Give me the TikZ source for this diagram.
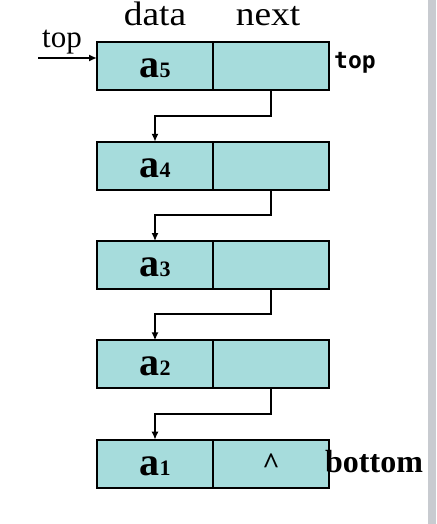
\documentclass[tikz,border=0pt]{standalone}
\usepackage{fontspec}
\setmainfont{Liberation Serif}
\setmonofont{DejaVu Sans Mono}
\usepackage{tikz}
\usetikzlibrary{arrows.meta}
\usetikzlibrary{positioning}
\definecolor{cellcolor}{RGB}{166,220,220}
\definecolor{barcolor}{RGB}{200,203,208}
\newcommand{\stackelem}[1]{{\fontsize{40}{40}\selectfont\bfseries a}{\fontsize{22}{22}\selectfont\bfseries #1}}
\tikzset{
    cellbox/.style={draw=black, line width=2pt, fill=cellcolor, inner sep=0pt, outer sep=0pt,
        minimum width=116pt, minimum height=48pt},
    datacell/.style={cellbox, text height=23pt, text depth=0pt},
    nextcell/.style={cellbox, font=\fontsize{30}{30}\selectfont\bfseries},
    link/.style={draw=black, line width=2pt, -{Latex[length=8pt,width=7pt]}},
    headtext/.style={inner sep=0pt, anchor=base, font=\fontsize{34}{34}\selectfont},
}
\begin{document}
\begin{tikzpicture}[x=1pt, y=-1pt, node distance=51.3pt]
	\useasboundingbox (0,0) rectangle (436,524);
	\fill[barcolor] (428,0) rectangle (436,524);
	% column heads
	\node[headtext] (datahead) at (155,26) {\scalebox{1.1}[1]{data}};
	\node[headtext] (nexthead) at (268,26) {\scalebox{1.1}[1]{next}};
	% stack cells
	\node[datacell] (d5) at (155,66.5) {\stackelem{5}};
	\node[nextcell, right=0pt of d5] (n5) {};
	\node[datacell, below=of d5] (d4) {\stackelem{4}};
	\node[nextcell, right=0pt of d4] (n4) {};
	\node[datacell, below=of d4] (d3) {\stackelem{3}};
	\node[nextcell, right=0pt of d3] (n3) {};
	\node[datacell, below=of d3] (d2) {\stackelem{2}};
	\node[nextcell, right=0pt of d2] (n2) {};
	\node[datacell, below=of d2] (d1) {\stackelem{1}};
	\node[nextcell, right=0pt of d1] (n1) {\textasciicircum};
	% links
	\draw[link] (n5.south) -- ++(0,25.2) -| (d4.north);
	\draw[link] (n4.south) -- ++(0,25.2) -| (d3.north);
	\draw[link] (n3.south) -- ++(0,25.2) -| (d2.north);
	\draw[link] (n2.south) -- ++(0,25.2) -| (d1.north);
	% top pointer
	\node[inner sep=0pt, anchor=base west, font=\fontsize{31}{31}\selectfont] (toplabel) at (42,48) {top};
	\coordinate (topin) at (38,58);
	\draw[link] (topin) -- (topin -| d5.west);
	\node[inner sep=0pt, anchor=base west, font=\fontsize{23}{23}\selectfont\ttfamily\bfseries] (topmark) at (334,69) {top};
	\node[inner sep=0pt, anchor=base west, font=\fontsize{32}{32}\selectfont\bfseries] (bottommark) at (325,472) {bottom};
\end{tikzpicture}
\end{document}
